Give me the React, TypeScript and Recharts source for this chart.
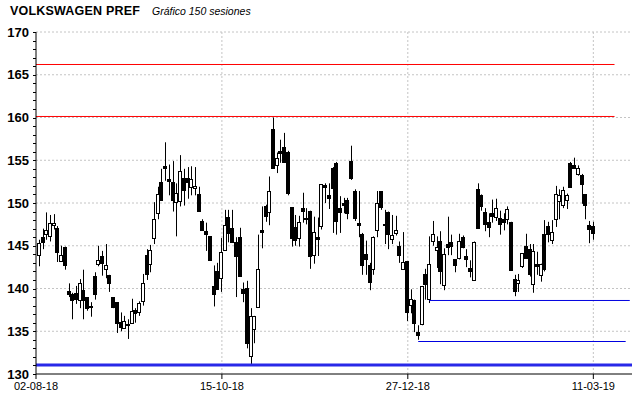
import { ComposedChart, Bar, XAxis, YAxis, ReferenceLine, CartesianGrid } from 'recharts'

// session tick labels (x positions in session index)
const dateLabels = ['02-08-18', '15-10-18', '27-12-18', '11-03-19']
const dateTicks = [-0.8, 49.2, 99.2, 149.1]

const opens = [
  143.9, 146.0, 146.4, 146.1, 147.4, 147.1, 143.2, 144.8, 139.7, 139.3,
  139.5, 138.6, 139.8, 139.0, 137.9, 141.5, 142.9, 143.8, 142.3, 141.6,
  139.0, 138.4, 136.1, 135.4, 135.9, 136.0, 137.5, 137.3, 138.5, 143.9,
  142.9, 145.9, 148.8, 152.5, 154.3, 152.8, 152.5, 150.1, 150.2, 152.9,
  152.9, 151.9, 151.7, 151.0, 147.9, 146.7, 146.1, 140.3, 142.1, 141.2,
  144.5, 148.4, 147.1, 145.4, 146.0, 139.9, 140.1, 132.1, 135.3, 137.8,
  146.9, 149.7, 148.9, 158.7, 154.5, 156.1, 156.6, 156.0, 149.5, 147.2,
  145.9, 149.4, 148.3, 149.1, 143.9, 146.0, 147.3, 152.1, 150.9, 154.1,
  154.7, 149.4, 150.0, 150.4, 154.9, 151.4, 147.7, 146.4, 144.0, 142.7,
  142.3, 146.9, 151.4, 147.6, 149.0, 145.8, 146.5, 145.0, 142.3, 143.2,
  138.1, 138.7, 134.9, 135.9, 141.7, 138.8, 145.6, 144.5, 145.6, 140.4,
  145.2, 145.4, 143.4, 143.6, 146.0, 143.8, 142.4, 141.0, 151.6, 150.9,
  148.9, 147.8, 148.8, 148.4, 148.3, 148.1, 148.1, 147.8, 141.1, 140.6,
  142.6, 145.0, 144.6, 140.5, 142.9, 141.6, 146.4, 147.3, 145.7, 148.1,
  150.2, 149.8, 150.4, 154.7, 154.5, 153.4, 153.3, 151.0, 147.4, 147.3,
]
const highs = [
  145.7, 147.0, 148.9, 148.6, 148.7, 147.3, 145.0, 144.9, 140.6, 139.5,
  140.3, 141.1, 142.2, 139.0, 138.4, 141.9, 145.0, 144.4, 145.2, 141.6,
  139.0, 138.4, 137.2, 136.8, 136.4, 138.8, 137.7, 138.5, 141.7, 144.6,
  145.1, 150.1, 151.9, 154.0, 157.1, 154.5, 154.9, 152.3, 155.6, 154.0,
  154.2, 154.3, 154.2, 151.9, 148.1, 147.7, 146.1, 142.7, 143.0, 145.9,
  149.2, 149.2, 149.2, 146.0, 147.1, 140.7, 140.9, 137.7, 136.8, 146.3,
  149.6, 149.8, 153.1, 160.0, 155.9, 157.4, 158.2, 156.1, 149.5, 148.6,
  148.5, 151.2, 149.4, 149.1, 148.4, 148.3, 152.2, 152.3, 152.3, 154.2,
  154.8, 150.8, 150.6, 150.6, 156.7, 151.6, 151.4, 146.5, 145.6, 143.0,
  146.1, 151.4, 151.4, 149.2, 149.0, 148.6, 148.5, 145.5, 146.6, 143.2,
  139.9, 138.7, 135.7, 140.3, 142.3, 146.1, 147.9, 146.1, 146.7, 144.7,
  148.4, 146.3, 143.4, 146.4, 146.2, 144.6, 143.3, 145.5, 152.3, 151.0,
  149.4, 148.8, 150.4, 150.5, 149.1, 148.8, 149.6, 147.8, 141.6, 141.7,
  144.1, 146.4, 145.2, 145.2, 144.3, 142.9, 148.0, 147.8, 148.0, 152.0,
  151.6, 151.9, 151.1, 154.8, 155.3, 154.4, 153.4, 151.0, 147.9, 147.8,
]
const lows = [
  142.6, 144.6, 145.7, 145.5, 146.9, 143.1, 143.1, 142.2, 139.0, 136.4,
  138.2, 137.7, 136.4, 137.4, 136.7, 138.7, 142.6, 141.5, 141.2, 139.6,
  137.7, 134.8, 135.0, 135.3, 134.1, 135.9, 136.0, 136.8, 138.0, 141.0,
  141.9, 145.2, 148.1, 150.3, 152.6, 150.9, 149.0, 146.1, 149.6, 149.7,
  150.5, 150.9, 150.9, 149.0, 146.8, 144.4, 143.3, 137.9, 139.9, 139.6,
  144.5, 145.4, 145.4, 139.0, 141.5, 138.4, 133.0, 131.1, 133.6, 137.8,
  144.7, 147.8, 147.4, 154.1, 153.5, 154.7, 154.8, 150.9, 144.9, 145.0,
  144.9, 147.7, 147.5, 142.3, 142.9, 143.8, 146.9, 150.0, 149.3, 146.5,
  146.3, 146.5, 148.8, 148.1, 152.7, 147.9, 146.0, 141.6, 141.6, 139.8,
  141.6, 146.0, 149.2, 145.2, 144.6, 145.2, 146.2, 143.0, 142.2, 136.2,
  137.1, 134.9, 134.0, 135.7, 138.7, 138.3, 145.0, 142.4, 140.5, 139.8,
  143.9, 143.9, 141.9, 143.4, 144.7, 142.5, 141.3, 141.0, 147.1, 149.1,
  146.7, 146.0, 147.7, 147.9, 146.3, 146.8, 147.5, 142.2, 139.1, 139.6,
  142.4, 143.5, 141.4, 139.5, 141.6, 140.8, 142.0, 145.4, 145.2, 147.2,
  148.1, 149.4, 149.3, 151.8, 154.0, 153.2, 149.9, 148.1, 145.3, 145.7,
]
const closes = [
  145.35, 145.4, 146.8, 147.7, 147.7, 144.3, 143.9, 142.8, 139.3, 138.6,
  138.8, 140.6, 138.6, 137.7, 137.9, 139.3, 143.3, 143.0, 142.8, 140.7,
  137.8, 136.0, 135.5, 136.2, 135.8, 137.4, 137.1, 138.3, 140.7, 141.7,
  144.5, 148.1, 151.0, 150.4, 154.1, 152.6, 150.3, 151.2, 153.8, 151.5,
  152.5, 152.8, 152.0, 149.1, 146.8, 146.4, 143.3, 139.3, 139.9, 144.3,
  147.4, 146.5, 145.4, 143.8, 141.5, 139.5, 133.6, 136.8, 136.8, 142.3,
  146.6, 148.5, 151.4, 154.1, 155.3, 155.9, 154.8, 151.2, 145.9, 145.7,
  147.8, 149.1, 148.3, 143.8, 146.6, 145.8, 152.2, 151.9, 150.6, 151.8,
  147.9, 148.9, 149.8, 148.8, 152.9, 148.3, 147.4, 142.8, 143.4, 140.8,
  146.0, 150.0, 149.5, 147.4, 146.4, 146.2, 146.8, 143.9, 143.1, 137.3,
  138.8, 136.0, 134.6, 140.3, 140.5, 142.9, 146.4, 144.8, 142.1, 144.0,
  144.9, 145.0, 142.8, 145.6, 144.8, 143.5, 142.1, 145.4, 147.1, 149.6,
  147.5, 147.2, 148.5, 149.4, 147.5, 147.8, 149.3, 142.2, 139.7, 141.0,
  144.1, 143.6, 141.7, 144.4, 142.6, 142.9, 142.3, 146.4, 146.6, 151.0,
  150.9, 151.5, 150.9, 151.9, 154.1, 154.1, 152.2, 149.8, 147.0, 146.5,
]

const resistances = [166.2, 160.12]
const supports = [
  { v: 138.6, from: 105, to: 158.9 },
  { v: 133.8, from: 102, to: 157.8 },
]
const floorLevel = 131.05

const data = opens.map((o, i) => ({ i, o, h: highs[i], l: lows[i], c: closes[i] }))
const gridY = [135, 140, 145, 150, 155, 160, 165, 170]
const yTicks: number[] = []
for (let v = 130; v <= 170; v++) yTicks.push(v)

const font = '"Liberation Sans", Arial, sans-serif'

// chart geometry, used to place the dotted grid at value positions
const W = 640
const H = 398
const M = { top: 32, right: 8, bottom: 4, left: 0 }
const Y_AXIS_W = 36
const X_AXIS_H = 20
const X_DOMAIN: [number, number] = [-0.8, 159.5]
const Y_DOMAIN: [number, number] = [130, 170]
const plotL = M.left + Y_AXIS_W
const plotW = W - plotL - M.right
const plotH = H - M.top - M.bottom - X_AXIS_H
const sx = (v: number) => plotL + ((v - X_DOMAIN[0]) / (X_DOMAIN[1] - X_DOMAIN[0])) * plotW
const sy = (v: number) => M.top + ((Y_DOMAIN[1] - v) / (Y_DOMAIN[1] - Y_DOMAIN[0])) * plotH

function Candle(props: any) {
  const { x, y, width, height, payload } = props
  if (!payload) return null
  const top = Math.min(y, y + height)
  const h = Math.abs(height)
  const k = payload.h > payload.l ? h / (payload.h - payload.l) : 0
  const py = (v: number) => top + (payload.h - v) * k
  const cx = Math.round(x + width / 2) + 0.5
  const up = payload.c >= payload.o
  const bTop = Math.round(py(Math.max(payload.o, payload.c))) + 0.5
  const bBot = Math.round(py(Math.min(payload.o, payload.c))) + 0.5
  return (
    <g>
      <line x1={cx} x2={cx} y1={top} y2={top + h} stroke="#000" strokeWidth={1} />
      <rect x={cx - 2} y={bTop} width={3} height={Math.max(bBot - bTop, 1)}
        fill={up ? '#fff' : '#000'} stroke="#000" strokeWidth={1} />
    </g>
  )
}

function YTick({ x, y, payload }: any) {
  const v = payload.value
  const yy = Math.round(y) + 0.5
  return (
    <g>
      <line x1={x - 3} x2={x} y1={yy} y2={yy} stroke="#000" />
      {v % 5 === 0 && (
        <text x={x - 7} y={y} dy={4.5} textAnchor="end" fontSize={13} fontWeight="bold"
          fontFamily={font} fill="#000">{v}</text>
      )}
    </g>
  )
}

export default function App() {
  return (
    <div style={{ position: 'absolute', left: 0, top: 0, width: W, height: H, background: '#fff' }}>
      <svg width={W} height={30} style={{ position: 'absolute', left: 0, top: 0 }}>
        <text x={10} y={15} fontSize={12.5} fontWeight="bold" fontFamily={font} fill="#000" letterSpacing={0.2}>
          VOLKSWAGEN PREF
        </text>
        <text x={152} y={15} fontSize={10.5} fontStyle="italic" fontFamily={font} fill="#000">
          Gráfico 150 sesiones
        </text>
      </svg>
      <ComposedChart width={W} height={H} data={data} margin={M}>
        <CartesianGrid stroke="#c4c4c4" strokeDasharray="2 2"
          horizontalPoints={gridY.map(sy)}
          verticalPoints={dateTicks.slice(1).map(sx)} />
        <XAxis dataKey="i" type="number" domain={X_DOMAIN} allowDataOverflow
          ticks={dateTicks} interval={0} height={X_AXIS_H}
          tickFormatter={(v: number) => dateLabels[dateTicks.indexOf(v)] ?? ''}
          tick={{ fontSize: 11, fill: '#000', fontFamily: font }}
          tickSize={5} tickMargin={3}
          stroke="#000" />
        <YAxis type="number" domain={Y_DOMAIN} allowDataOverflow ticks={yTicks} interval={0}
          width={Y_AXIS_W} tickLine={false} tickSize={0} tickMargin={0} tick={<YTick />} stroke="#000" />
        {resistances.map((v) => (
          <ReferenceLine key={'r' + v} segment={[{ x: -0.8, y: v }, { x: 154.8, y: v }]}
            stroke="#ff0000" strokeWidth={1} />
        ))}
        {supports.map((s) => (
          <ReferenceLine key={'s' + s.v} segment={[{ x: s.from, y: s.v }, { x: s.to, y: s.v }]}
            stroke="#0000e0" strokeWidth={1} />
        ))}
        <ReferenceLine y={floorLevel} stroke="#2828e8" strokeWidth={3} />
        <Bar dataKey={(d: any) => [d.l, d.h]} barSize={4} shape={<Candle />} isAnimationActive={false} />
      </ComposedChart>
    </div>
  )
}
